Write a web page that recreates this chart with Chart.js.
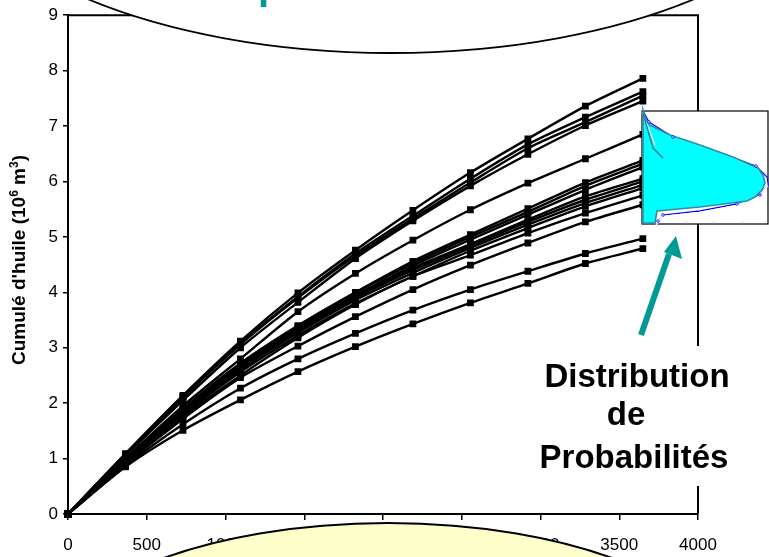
<!DOCTYPE html>
<html>
<head>
<meta charset="utf-8">
<script src="https://cdn.jsdelivr.net/npm/chart.js@4.4.0/dist/chart.umd.min.js"></script>
<style>
    html, body { margin: 0; padding: 0; background: #fff; }
    #wrap { width: 769px; height: 557px; }
</style>
</head>
<body>
<div id="wrap"><canvas id="cumulChart" width="769" height="557"></canvas></div>
<script>
// time axis (days) and the tick labels
const days = [0, 365, 730, 1095, 1460, 1825, 2190, 2555, 2920, 3285, 3650];
const xTicks = [0, 500, 1000, 1500, 2000, 2500, 3000, 3500, 4000];
const yTicks = [0, 1, 2, 3, 4, 5, 6, 7, 8, 9];

// cumulative oil, one array per simulation run (10^6 m3)
const run01 = [0, 1.09, 2.14, 3.12, 3.99, 4.76, 5.48, 6.16, 6.77, 7.36, 7.86];
const run02 = [0, 1.08, 2.12, 3.08, 3.92, 4.70, 5.38, 6.05, 6.67, 7.16, 7.62];
const run03 = [0, 1.07, 2.10, 3.06, 3.90, 4.66, 5.33, 5.98, 6.60, 7.07, 7.55];
const run04 = [0, 1.05, 2.05, 3.00, 3.82, 4.61, 5.29, 5.92, 6.49, 7.01, 7.45];
const run05 = [0, 1.00, 1.95, 2.80, 3.65, 4.34, 4.94, 5.49, 5.97, 6.41, 6.85];
const run06 = [0, 0.98, 1.90, 2.72, 3.40, 4.00, 4.56, 5.04, 5.51, 5.98, 6.38];
const run07 = [0, 0.97, 1.88, 2.70, 3.38, 3.99, 4.52, 5.00, 5.45, 5.92, 6.32];
const run08 = [0, 0.96, 1.86, 2.68, 3.36, 3.95, 4.48, 4.95, 5.40, 5.85, 6.26];
const run09 = [0, 0.95, 1.84, 2.65, 3.33, 3.92, 4.44, 4.87, 5.31, 5.73, 6.05];
const run10 = [0, 0.94, 1.82, 2.62, 3.30, 3.90, 4.40, 4.84, 5.27, 5.67, 6.00];
const run11 = [0, 0.93, 1.80, 2.60, 3.27, 3.86, 4.35, 4.80, 5.22, 5.61, 5.94];
const run12 = [0, 0.92, 1.78, 2.56, 3.22, 3.80, 4.29, 4.75, 5.16, 5.55, 5.88];
const run13 = [0, 0.91, 1.75, 2.50, 3.18, 3.78, 4.29, 4.67, 5.07, 5.43, 5.75];
const run14 = [0, 0.90, 1.72, 2.46, 3.03, 3.56, 4.05, 4.49, 4.89, 5.27, 5.58];
const run15 = [0, 0.87, 1.62, 2.27, 2.80, 3.26, 3.68, 4.05, 4.38, 4.70, 4.97];
const run16 = [0, 0.85, 1.51, 2.06, 2.57, 3.02, 3.43, 3.81, 4.16, 4.52, 4.79];

const runs = [run01, run02, run03, run04, run05, run06, run07, run08,
              run09, run10, run11, run12, run13, run14, run15, run16];

const FONT = "'Liberation Sans', Arial, sans-serif";
const TEAL = '#009a94';

// frame of the plot area (top and right sides)
const frame = {
    id: 'frame',
    beforeDatasetsDraw(chart) {
        const { ctx, chartArea: a } = chart;
        ctx.save();
        ctx.strokeStyle = '#000';
        ctx.lineWidth = 2;
        ctx.beginPath();
        ctx.moveTo(a.left, a.top);
        ctx.lineTo(a.right, a.top);
        ctx.lineTo(a.right, a.bottom);
        ctx.stroke();
        ctx.restore();
    }
};

// y title with real superscripts
const yTitle = {
    id: 'yTitle',
    afterDraw(chart) {
        const ctx = chart.ctx;
        const parts = [
            ["Cumulé d'huile (10", false],
            ['6', true],
            [' m', false],
            ['3', true],
            [')', false]
        ];
        const big = 'bold 19px ' + FONT;
        const small = 'bold 12px ' + FONT;
        ctx.save();
        let total = 0;
        parts.forEach(([t, sup]) => {
            ctx.font = sup ? small : big;
            total += ctx.measureText(t).width;
        });
        ctx.translate(25, 260);
        ctx.rotate(-Math.PI / 2);
        ctx.fillStyle = '#000';
        ctx.textBaseline = 'alphabetic';
        let x = -total / 2;
        parts.forEach(([t, sup]) => {
            ctx.font = sup ? small : big;
            ctx.fillText(t, x, sup ? -7 : 0);
            x += ctx.measureText(t).width;
        });
        ctx.restore();
    }
};

// callouts drawn over the chart
const callouts = {
    id: 'callouts',
    afterDraw(chart) {
        const ctx = chart.ctx;
        ctx.save();

        // top ellipse
        ctx.beginPath();
        ctx.ellipse(391, -160, 456, 213, 0, 0, Math.PI * 2);
        ctx.fillStyle = '#fff';
        ctx.fill();
        ctx.lineWidth = 1.8;
        ctx.strokeStyle = '#000';
        ctx.stroke();

        // bit of teal text cut by the top edge
        ctx.fillStyle = TEAL;
        ctx.font = 'bold 40px ' + FONT;
        ctx.textBaseline = 'alphabetic';
        ctx.textAlign = 'left';
        ctx.fillText('p', 258, -1);

        // inset: probability distribution
        ctx.fillStyle = '#fff';
        ctx.fillRect(642, 111, 126, 113);
        ctx.lineWidth = 1.2;
        ctx.strokeStyle = '#000';
        ctx.strokeRect(642, 111, 126, 113);

        const blue = [[643, 111], [649, 122], [673, 137], [717, 152], [756, 166],
                      [767, 177], [768, 185], [760, 195], [737, 204], [700, 211],
                      [663, 215], [658, 222], [657, 224]];
        ctx.beginPath();
        blue.forEach(([x, y], i) => i ? ctx.lineTo(x, y) : ctx.moveTo(x, y));
        ctx.strokeStyle = '#0000ff';
        ctx.lineWidth = 1.3;
        ctx.stroke();
        ctx.strokeStyle = '#fff';
        ctx.lineWidth = 1.5;
        ctx.beginPath();
        blue.forEach(([x, y], i) => i ? ctx.lineTo(x - 1, y + 1.5) : ctx.moveTo(x - 1, y + 1.5));
        ctx.stroke();

        const shape = [[643, 110], [645, 118], [650, 125], [670, 135], [700, 145],
                       [733, 157], [758, 168], [763, 175], [765, 183], [762, 190],
                       [755, 197], [747, 201], [700, 207], [657, 211], [655, 223],
                       [643, 223]];
        ctx.beginPath();
        shape.forEach(([x, y], i) => i ? ctx.lineTo(x, y) : ctx.moveTo(x, y));
        ctx.closePath();
        ctx.fillStyle = '#00ffff';
        ctx.fill();
        ctx.strokeStyle = '#2f8fa8';
        ctx.lineWidth = 1.6;
        ctx.stroke();

        ctx.fillStyle = '#fff';
        ctx.strokeStyle = '#0000ff';
        ctx.lineWidth = 0.8;
        [[649, 122], [673, 137], [756, 166], [760, 195], [737, 204], [663, 215], [658, 221]]
            .forEach(([x, y]) => {
                ctx.beginPath();
                ctx.arc(x, y, 1.3, 0, Math.PI * 2);
                ctx.fill();
                ctx.stroke();
            });

        ctx.beginPath();
        ctx.moveTo(646, 122);
        ctx.lineTo(655, 145);
        ctx.strokeStyle = '#fff';
        ctx.lineWidth = 1.2;
        ctx.stroke();
        ctx.beginPath();
        ctx.moveTo(643, 113);
        ctx.lineTo(653, 148);
        ctx.lineTo(663, 158);
        ctx.strokeStyle = '#2f7f98';
        ctx.lineWidth = 1.5;
        ctx.stroke();

        ctx.strokeStyle = '#999';
        ctx.lineWidth = 1;
        [686, 714, 742].forEach(x => {
            ctx.beginPath();
            ctx.moveTo(x, 224);
            ctx.lineTo(x, 222);
            ctx.stroke();
        });

        // arrow
        ctx.strokeStyle = TEAL;
        ctx.fillStyle = TEAL;
        ctx.lineWidth = 6;
        ctx.beginPath();
        ctx.moveTo(641, 335);
        ctx.lineTo(669, 254);
        ctx.stroke();
        ctx.beginPath();
        ctx.moveTo(676, 236);
        ctx.lineTo(682, 259);
        ctx.lineTo(664, 252);
        ctx.closePath();
        ctx.fill();

        // label box
        ctx.fillStyle = '#fff';
        ctx.fillRect(540, 346, 196, 140);
        ctx.fillStyle = '#000';
        ctx.font = 'bold 33px ' + FONT;
        ctx.textAlign = 'center';
        ctx.fillText('Distribution', 637, 387);
        ctx.fillText('de', 626, 425);
        ctx.fillText('Probabilités', 634, 468);

        // bottom ellipse
        ctx.beginPath();
        ctx.ellipse(388, 673, 349, 150, 0, 0, Math.PI * 2);
        ctx.fillStyle = '#ffffcc';
        ctx.fill();
        ctx.lineWidth = 2;
        ctx.strokeStyle = '#000';
        ctx.stroke();

        ctx.restore();
    }
};

const canvas = document.getElementById('cumulChart').getContext('2d');

new Chart(canvas, {
    type: 'line',
    data: {
        datasets: runs.map(run => ({
            data: run.map((v, i) => ({ x: days[i], y: v })),
            borderColor: '#000',
            borderWidth: 2.4,
            pointStyle: 'rect',
            pointRadius: 4.8,
            pointBackgroundColor: '#000',
            pointBorderColor: '#000',
            pointBorderWidth: 0,
            tension: 0.25,
            fill: false,
            clip: 8
        }))
    },
    options: {
        responsive: false,
        animation: false,
        events: [],
        layout: { padding: { top: 13, right: 71, left: 0, bottom: 0 } },
        plugins: {
            legend: { display: false },
            tooltip: { enabled: false }
        },
        scales: {
            x: {
                type: 'linear',
                min: 0,
                max: 4000,
                afterBuildTicks: s => { s.ticks = xTicks.map(v => ({ value: v })); },
                afterFit: s => { s.height = 43; },
                ticks: {
                    color: '#000',
                    font: { family: FONT, size: 17 },
                    maxRotation: 0,
                    autoSkip: false,
                    padding: 15,
                    callback: v => String(v)
                },
                grid: { drawOnChartArea: false, color: '#000', tickLength: 6, lineWidth: 1.5 },
                border: { color: '#000', width: 2 }
            },
            y: {
                min: 0,
                max: 9,
                afterBuildTicks: s => { s.ticks = yTicks.map(v => ({ value: v })); },
                afterFit: s => { s.width = 68; },
                ticks: {
                    color: '#000',
                    font: { family: FONT, size: 17 },
                    autoSkip: false,
                    padding: 5,
                    callback: v => String(v)
                },
                grid: { drawOnChartArea: false, color: '#000', tickLength: 5, lineWidth: 1.5 },
                border: { color: '#000', width: 2 }
            }
        }
    },
    plugins: [frame, yTitle, callouts]
});
</script>
</body>
</html>
